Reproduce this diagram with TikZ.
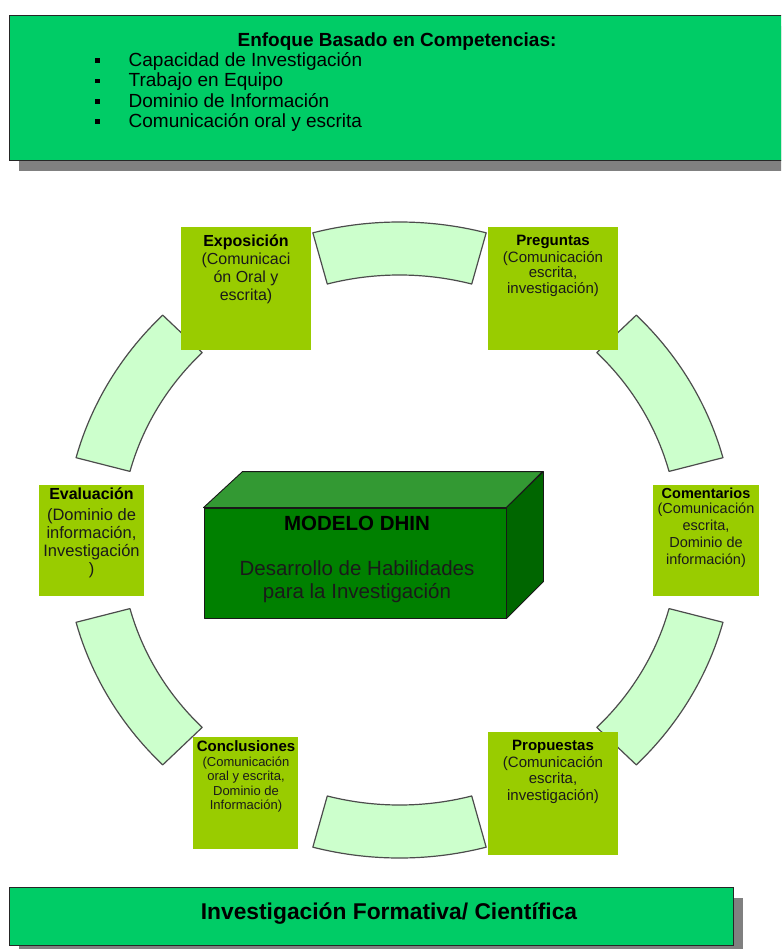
\documentclass[tikz,border=0pt]{standalone}
\usepackage{fontspec}
\setmainfont{Liberation Sans}
\usetikzlibrary{shadows}
\definecolor{boxgreen}{HTML}{00CC66}
\definecolor{labgreen}{HTML}{99CC00}
\definecolor{arcfill}{HTML}{CCFFCC}
\definecolor{cubefront}{HTML}{008000}
\definecolor{cubetop}{HTML}{339933}
\definecolor{cubeside}{HTML}{006600}
\definecolor{shadowgray}{HTML}{808080}
\definecolor{subtxt}{HTML}{1A1A1A}
\newcommand\fsz[2]{\fontsize{#1}{#2}\selectfont}
\begin{document}
\begin{tikzpicture}[x=1pt,y=-1pt,
  bigbox/.style={draw=black!85, line width=1.3pt, fill=boxgreen, inner sep=0pt, anchor=north west,
    drop shadow={opacity=1, fill=shadowgray, shadow xshift=9pt, shadow yshift=-10pt}},
  labbox/.style={fill=labgreen, draw=none, inner sep=0pt},
  segment/.style={draw=black!70, line width=1.2pt, fill=arcfill, line join=round},
  ttl/.style={anchor=base, inner sep=0pt, text=black},
  sub/.style={anchor=base, inner sep=0pt, text=subtxt},
  bulletsq/.style={fill=black, inner sep=0pt, minimum size=4.5pt},
  cubeline/.style={draw=black!90, line width=0.9pt, line join=round}
]
\useasboundingbox (0,0) rectangle (781,949);
\clip (0,0) rectangle (781,949);

% ---------- top box ----------
\node[bigbox, minimum width=790pt, minimum height=145pt] (topbox) at (9,15) {};
\node[ttl, font=\bfseries\fsz{19}{21}] (toptitle) at (397,46.5) {Enfoque Basado en Competencias:};
\foreach \t [count=\i] in {Capacidad de Investigación, Trabajo en Equipo, Dominio de Información, Comunicación oral y escrita}{
  \node[bulletsq] (bul\i) at (97.5,{66.5+20.4*(\i-1)-6}) {};
  \node[anchor=base west, inner sep=0pt, font=\fsz{19}{21}] (item\i) at (128.5,{66.5+20.4*(\i-1)}) {\t};
}

% ---------- ring segments ----------
\begin{scope}[shift={(399.5,540)}, xscale=1.053]
\foreach \a/\b in {75/105, 15/45, -45/-15, -105/-75, 135/165, 195/225}{
  \draw[segment] plot[domain=\a:\b, samples=31] ({318*cos(\x)},{318*sin(\x)})
    -- plot[domain=\b:\a, samples=31] ({265*cos(\x)},{265*sin(\x)}) -- cycle;
}
\end{scope}

% ---------- label boxes ----------
\node[labbox, minimum width=130pt, minimum height=123pt] (expo) at (246,288.5) {};
\node[labbox, minimum width=130pt, minimum height=123pt] (preg) at (553,288.5) {};
\node[labbox, minimum width=105pt, minimum height=111pt] (eval) at (91.5,540.5) {};
\node[labbox, minimum width=106pt, minimum height=111pt] (coment) at (706,540.5) {};
\node[labbox, minimum width=105pt, minimum height=112pt] (concl) at (245.5,793) {};
\node[labbox, minimum width=130pt, minimum height=123pt] (prop) at (553,793.5) {};

% Exposicion
\node[ttl, font=\bfseries\fsz{16}{18}] (expo-t) at (246,247) {Exposición};
\foreach \t [count=\i] in {{(Comunicaci}, {ón Oral y}, {escrita)}}
  \node[sub, font=\fsz{16}{18}] (expo-s\i) at (246,{265+18*(\i-1)}) {\t};
% Preguntas
\node[ttl, font=\bfseries\fsz{15}{17}] (preg-t) at (553,245.5) {Preguntas};
\foreach \t [count=\i] in {{(Comunicación}, {escrita,}, {investigación)}}
  \node[sub, font=\fsz{15}{17}] (preg-s\i) at (553,{262+16*(\i-1)}) {\t};
% Evaluacion
\node[ttl, font=\bfseries\fsz{16}{18}] (eval-t) at (91.5,499) {Evaluación};
\foreach \t [count=\i] in {{(Dominio de}, {información,}, {Investigación}, {)}}
  \node[sub, font=\fsz{16.5}{18}] (eval-s\i) at (91.5,{520+18.3*(\i-1)}) {\t};
% Comentarios
\node[ttl, font=\bfseries\fsz{14.5}{16}] (coment-t) at (706,498) {Comentarios};
\foreach \t [count=\i] in {{(Comunicación}, {escrita,}, {Dominio de}, {información)}}
  \node[sub, font=\fsz{14.5}{16}] (coment-s\i) at (706,{513+17*(\i-1)}) {\t};
% Conclusiones
\node[ttl, font=\bfseries\fsz{15}{17}] (concl-t) at (246,751.5) {Conclusiones};
\foreach \t [count=\i] in {{(Comunicación}, {oral y escrita,}, {Dominio de}, {Información)}}
  \node[sub, font=\fsz{13}{14}] (concl-s\i) at (246,{766+14.5*(\i-1)}) {\t};
% Propuestas
\node[ttl, font=\bfseries\fsz{15}{17}] (prop-t) at (553,750.7) {Propuestas};
\foreach \t [count=\i] in {{(Comunicación}, {escrita,}, {investigación)}}
  \node[sub, font=\fsz{15}{17}] (prop-s\i) at (553,{767+16.5*(\i-1)}) {\t};

% ---------- central 3D box ----------
\node[fill=cubefront, cubeline, inner sep=0pt, minimum width=302pt, minimum height=110pt] (model) at (355,563) {};
\filldraw[cubeline, fill=cubetop] (model.north west) -- ++(39,-36) -- ++(300,0) -- (model.north east) -- cycle;
\filldraw[cubeline, fill=cubeside] (model.north east) -- ++(37,-36) -- ++(0,110) -- (model.south east) -- cycle;
\node[ttl, font=\bfseries\fsz{20.5}{23}] (model-t) at (357,530.5) {MODELO DHIN};
\node[sub, font=\fsz{20.5}{23}] (model-s1) at (357,575) {Desarrollo de Habilidades};
\node[sub, font=\fsz{20.5}{23}] (model-s2) at (357,598) {para la Investigación};

% ---------- bottom box ----------
\node[bigbox, minimum width=724pt, minimum height=58pt] (botbox) at (9,887) {};
\node[ttl, font=\bfseries\fsz{22.8}{25}] (bottitle) at (389,919) {Investigación Formativa/ Científica};
\end{tikzpicture}
\end{document}
